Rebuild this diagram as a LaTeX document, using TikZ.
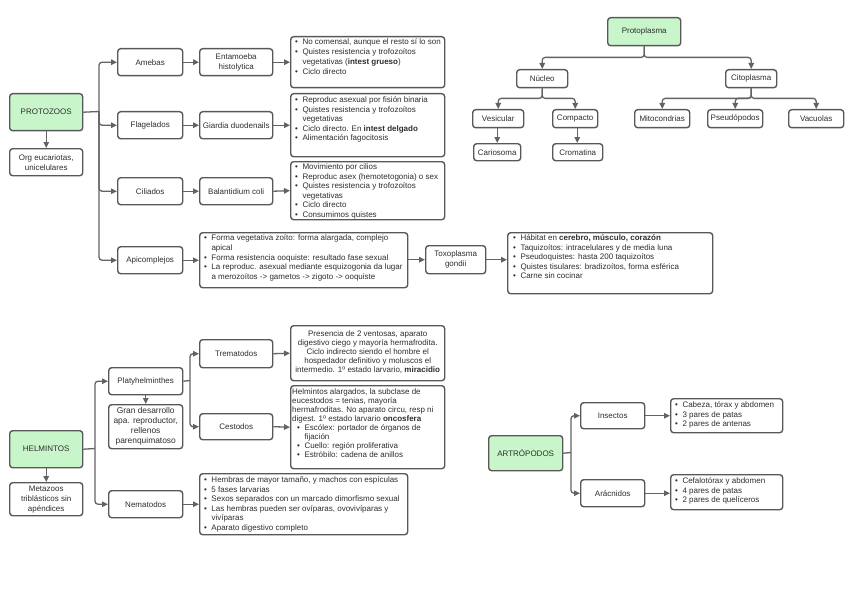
\documentclass[tikz,border=0pt]{standalone}
\usepackage{fontspec}
\setmainfont{Liberation Sans}
\usetikzlibrary{arrows.meta,calc}
\definecolor{bd}{HTML}{585858}
\definecolor{gr}{HTML}{C9F5CB}
\definecolor{tx}{HTML}{2E2E2E}
\definecolor{ln}{HTML}{636363}
\tikzset{
  box/.style={draw=bd, line width=1.4pt, rounded corners=3pt, fill=white, inner sep=0pt,
    text=tx, font=\fontsize{8}{10}\selectfont, align=center},
  grn/.style={fill=gr},
  txt/.style={inner sep=0pt, text=tx, font=\fontsize{8}{9.6}\selectfont, anchor=north west},
  txtc/.style={inner sep=0pt, text=tx, font=\fontsize{8}{9.1}\selectfont, anchor=north},
  arr/.style={draw=ln, line width=1.3pt, rounded corners=3pt, -{Triangle[length=6pt,width=5.5pt]}},
  ln/.style={draw=ln, line width=1.3pt}
}
\newcommand{\bx}[7][]{\node[box,#1,minimum width={(#5-#3)*1pt}, minimum height={(#6-#4)*1pt}, anchor=north west] (#2) at (#3,#4) {#7};}
\newcommand{\B}{\textbullet}
\newcommand{\Bsep}{@{}l@{\hspace{4.5pt}}l@{}}
\begin{document}
\begin{tikzpicture}[x=1pt,y=-1pt]
\useasboundingbox[fill=white] (0,0) rectangle (848,599);

% ---------- PROTOZOOS ----------
\bx[grn]{protozoos}{9}{93}{82}{130}{PROTOZOOS}
\bx{org}{9}{148}{82}{175}{Org eucariotas,\\unicelulares}
\bx{amebas}{117}{48}{182}{75}{Amebas}
\bx{entamoeba}{199}{48}{272}{75}{Entamoeba\\histolytica}
\bx{amebasI}{290}{36}{444}{87}{}
\bx{flagelados}{117}{111}{182}{138}{Flagelados}
\bx{giardia}{199}{111}{272}{138}{Giardia duodenails}
\bx{flagI}{290}{93}{444}{156}{}
\bx{ciliados}{117}{177}{182}{204}{Ciliados}
\bx{balantidium}{199}{177}{272}{204}{Balantidium coli}
\bx{cilI}{290}{161}{444}{219}{}
\bx{apicomplejos}{117}{246}{182}{273}{Apicomplejos}
\bx{apiI}{199}{232}{407}{287}{}
\bx{toxo}{425}{245}{485}{273}{Toxoplasma\\gondii}
\bx{toxoI}{507}{232}{712}{293}{}

\node[txt, font=\fontsize{8}{10}\selectfont] (amebasT) at ($(amebasI.north west)+(5,1.5)$) {\begin{tabular}{\Bsep}
\B & No comensal, aunque el resto sí lo son\\
\B & Quistes resistencia y trofozoítos\\
 & vegetativas (\textbf{intest grueso})\\
\B & Ciclo directo\end{tabular}};
\node[txt] (flagT) at ($(flagI.north west)+(5,2.5)$) {\begin{tabular}{\Bsep}
\B & Reproduc asexual por fisión binaria\\
\B & Quistes resistencia y trofozoítos\\
 & vegetativas\\
\B & Ciclo directo. En \textbf{intest delgado}\\
\B & Alimentación fagocitosis\end{tabular}};
\node[txt] (cilT) at ($(cilI.north west)+(5,1.5)$) {\begin{tabular}{\Bsep}
\B & Movimiento por cilios\\
\B & Reproduc asex (hemotetogonia) o sex\\
\B & Quistes resistencia y trofozoítos\\
 & vegetativas\\
\B & Ciclo directo\\
\B & Consumimos quistes\end{tabular}};
\node[txt] (apiT) at ($(apiI.north west)+(5,2)$) {\begin{tabular}{\Bsep}
\B & Forma vegetativa zoíto: forma alargada, complejo\\
 & apical\\
\B & Forma resistencia ooquiste: resultado fase sexual\\
\B & La reproduc. asexual mediante esquizogonia da lugar\\
 & a merozoítos -> gametos -> zigoto -> ooquiste\end{tabular}};
\node[txt] (toxoT) at ($(toxoI.north west)+(6,1.5)$) {\begin{tabular}{\Bsep}
\B & Hábitat en \textbf{cerebro, músculo, corazón}\\
\B & Taquizoítos: intracelulares y de media luna\\
\B & Pseudoquistes: hasta 200 taquizoítos\\
\B & Quistes tisulares: bradizoítos, forma esférica\\
\B & Carne sin cocinar\end{tabular}};

\draw[ln] (protozoos.east) -- (99,111.5) coordinate (sp);
\draw[arr] (sp) |- (amebas.west);
\draw[arr] (sp) |- (flagelados.west);
\draw[arr] (sp) |- (ciliados.west);
\draw[arr] (sp) |- (apicomplejos.west);
\draw[arr] (protozoos.south) -- (org.north);
\draw[arr] (amebas.east) -- (entamoeba.west);
\draw[arr] (entamoeba.east) -- (amebasI.west);
\draw[arr] (flagelados.east) -- (giardia.west);
\draw[arr] (giardia.east) -- (flagI.west);
\draw[arr] (ciliados.east) -- (balantidium.west);
\draw[arr] (balantidium.east) -- (cilI.west);
\draw[arr] (apicomplejos.east) -- (apicomplejos.east -| apiI.west);
\draw[arr] (apiI.east |- toxo.west) -- (toxo.west);
\draw[arr] (toxo.east) -- (toxo.east -| toxoI.west);

% ---------- PROTOPLASMA ----------
\bx[grn]{protoplasma}{607}{17}{680}{45}{Protoplasma}
\bx{nucleo}{516}{69}{567}{87}{Núcleo}
\bx{citoplasma}{725}{69}{776}{87}{Citoplasma}
\bx{vesicular}{472}{109}{523}{127}{Vesicular}
\bx{compacto}{552}{109}{597}{127}{Compacto}
\bx{cariosoma}{473}{143}{520}{160}{Cariosoma}
\bx{cromatina}{552}{143}{602}{160}{Cromatina}
\bx{mito}{634}{109}{689}{127}{Mitocondrias}
\bx{pseudo}{707}{109}{762}{127}{Pseudópodos}
\bx{vacuolas}{788}{109}{843}{127}{Vacuolas}

\draw[arr] (protoplasma.south) -- ++(0,11) -| (nucleo.north);
\draw[arr] (protoplasma.south) -- ++(0,11) -| (citoplasma.north);
\draw[arr] (nucleo.south) -- ++(0,10) -| (vesicular.north);
\draw[arr] (nucleo.south) -- ++(0,10) -| (compacto.north);
\draw[arr] (citoplasma.south) -- ++(0,10) -| (mito.north);
\draw[arr] (citoplasma.south) -- ++(0,10) -| (pseudo.north);
\draw[arr] (citoplasma.south) -- ++(0,10) -| (vacuolas.north);
\draw[arr] ($(vesicular.south)+(-1,0)$) -- ($(vesicular.south |- cariosoma.north)+(-1,0)$);
\draw[arr] ($(compacto.south)+(2,0)$) -- ($(compacto.south |- cromatina.north)+(2,0)$);

% ---------- HELMINTOS ----------
\bx[grn]{helm}{9}{430}{82}{467}{HELMINTOS}
\bx{metazoos}{9}{482}{82}{515}{Metazoos\\triblásticos sin\\apéndices}
\bx{platy}{108}{367}{182}{394}{Platyhelminthes}
\bx[font=\fontsize{8.4}{10}\selectfont]{gran}{108}{404}{182}{448}{Gran desarrollo\\apa. reproductor,\\rellenos\\parenquimatoso}
\bx{trem}{199}{339}{272}{367}{Trematodos}
\bx{cest}{199}{413}{272}{439}{Cestodos}
\bx{nema}{108}{490}{182}{517}{Nematodos}
\bx{tremI}{290}{325}{444}{380}{}
\bx{cestI}{290}{385}{444}{468}{}
\bx{nemaI}{199}{473}{407}{534}{}

\node[txtc] (tremT) at ($(tremI.north)+(0,5)$) {\begin{tabular}{@{}c@{}}
Presencia de 2 ventosas, aparato\\
digestivo ciego y mayoría hermafrodita.\\
Ciclo indirecto siendo el hombre el\\
hospedador definitivo y moluscos el\\
intermedio. 1º estado larvario, \textbf{miracidio}\end{tabular}};
\node[txt, font=\fontsize{8}{9.1}\selectfont] (cestT) at ($(cestI.north west)+(2,2.5)$) {\begin{tabular}{@{}l@{}}
Helmintos alargados, la subclase de\\
eucestodos = tenias, mayoría\\
hermafroditas. No aparato circu, resp ni\\
digest. 1º estado larvario \textbf{oncosfera}\\
\hspace{5pt}\begin{tabular}{\Bsep}
\B & Escólex: portador de órganos de\\
 & fijación\\
\B & Cuello: región proliferativa\\
\B & Estróbilo: cadena de anillos\end{tabular}\end{tabular}};
\node[txt] (nemaT) at ($(nemaI.north west)+(5,2.5)$) {\begin{tabular}{\Bsep}
\B & Hembras de mayor tamaño, y machos con espículas\\
\B & 5 fases larvarias\\
\B & Sexos separados con un marcado dimorfismo sexual\\
\B & Las hembras pueden ser ovíparas, ovovivíparas y\\
 & vivíparas\\
\B & Aparato digestivo completo\end{tabular}};

\draw[ln] (helm.east) -- (95,448.5) coordinate (hs);
\draw[arr] (hs) |- (platy.west);
\draw[arr] (hs) |- (nema.west);
\draw[arr] (helm.south) -- (metazoos.north);
\draw[arr] (platy.south) -- (gran.north);
\draw[ln] (platy.east) -- (190,380.5) coordinate (ps);
\draw[arr] (ps) |- (trem.west);
\draw[arr] (ps) |- (cest.west);
\draw[arr] (trem.east) -- (tremI.west);
\draw[arr] (cest.east) -- (cestI.west);
\draw[arr] (nema.east) -- (nemaI.west);

% ---------- ARTROPODOS ----------
\bx[grn]{artro}{488}{435}{562}{470}{ARTRÓPODOS}
\bx{insectos}{580}{402}{644}{428}{Insectos}
\bx{aracnidos}{580}{479}{644}{506}{Arácnidos}
\bx{insI}{670}{398}{782}{432}{}
\bx{araI}{670}{474}{782}{509}{}
\node[txt] (insT) at ($(insI.north west)+(5,2.5)$) {\begin{tabular}{\Bsep}
\B & Cabeza, tórax y abdomen\\
\B & 3 pares de patas\\
\B & 2 pares de antenas\end{tabular}};
\node[txt] (araT) at ($(araI.north west)+(5,2.5)$) {\begin{tabular}{\Bsep}
\B & Cefalotórax y abdomen\\
\B & 4 pares de patas\\
\B & 2 pares de quelíceros\end{tabular}};

\draw[ln] (artro.east) -- (571,452.5) coordinate (as);
\draw[arr] (as) |- (insectos.west);
\draw[arr] (as) |- (aracnidos.west);
\draw[arr] (insectos.east) -- (insI.west);
\draw[arr] (aracnidos.east) -- (aracnidos.east -| araI.west);
\end{tikzpicture}
\end{document}
